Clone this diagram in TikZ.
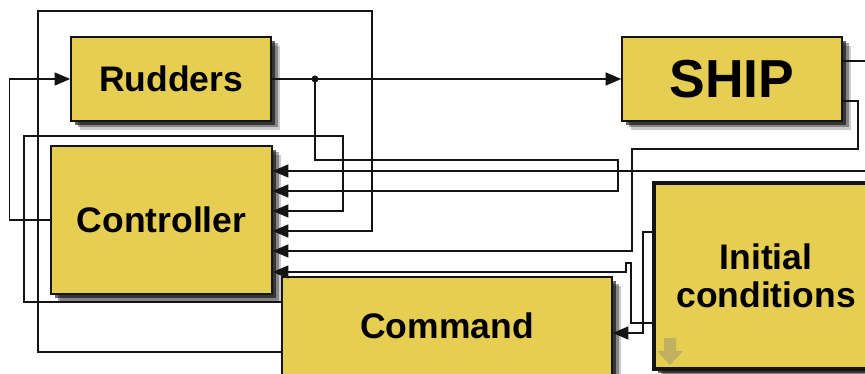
\documentclass[tikz,border=0pt]{standalone}
\usepackage{fontspec}
\setmainfont{Liberation Sans}
\usetikzlibrary{arrows.meta,shadows}
\definecolor{boxfill}{RGB}{230,206,83}
\definecolor{linec}{RGB}{20,20,20}
\definecolor{iconc}{RGB}{186,172,96}
\begin{document}
\begin{tikzpicture}[x=1pt,y=-1pt,
  blk/.style={draw=linec, line width=1.6pt, fill=boxfill, inner sep=0pt,
    font=\bfseries\fontsize{35.5}{38}\selectfont, align=center,
    drop shadow={shadow xshift=9pt,shadow yshift=-9pt,opacity=.2,fill=black},
    drop shadow={shadow xshift=6.5pt,shadow yshift=-6.5pt,opacity=.35,fill=black},
    drop shadow={shadow xshift=4pt,shadow yshift=-4pt,opacity=.6,fill=black}},
  wire/.style={draw=linec, line width=1.3pt},
  arr/.style={wire, -{Triangle[length=15.5pt,width=13pt]}}]
\useasboundingbox (0,0) rectangle (865,374);
\clip (0,0) rectangle (865,374);

\node[blk, minimum width=200pt, minimum height=84pt] (rud) at (171,79) {Rudders};
\node[blk, minimum width=220pt, minimum height=84pt,
      font=\bfseries\fontsize{53.5}{56}\selectfont] (ship) at (732,79) {SHIP};
\node[blk, minimum width=221pt, minimum height=148pt] (ctl) at (161.5,220) {Controller};
\node[blk, minimum width=330pt, minimum height=98pt] (cmd) at (447,326) {Command};
\node[blk, line width=3.5pt, minimum width=224pt, minimum height=185.5pt] (init) at (766,276) {Initial\\conditions};

\fill[iconc, opacity=.85] (664,338) -- (676,338) -- (676,351) -- (683,351) -- (670,365)
  -- (657,351) -- (664,351) -- cycle;

\node[circle, fill=linec, inner sep=0pt, minimum size=7pt] (dot) at (315,79) {};

\draw[arr] (rud.east) -- (ship.west);
\draw[arr] (dot.center) -- (315,160) -- (618,160) -- (618,191) -- (ctl.east |- 0,191);
\draw[arr] (ctl.west) -- ++(-41,0) |- (rud.west);
\draw[arr] (cmd.west |- 0,302) -- (24,302) -- (24,136) -- (343,136) -- (343,211) -- (ctl.east |- 0,211);
\draw[arr] (cmd.west |- 0,352) -- (38,352) -- (38,11) -- (372,11) -- (372,231) -- (ctl.east |- 0,231);
\draw[arr] (ship.east |- 0,61) -- (885,61) -- (885,171) -- (ctl.east |- 0,171);
\draw[arr] (ship.east |- 0,101) -- (858,101) -- (858,149) -- (632,149) -- (632,251) -- (ctl.east |- 0,251);
\draw[arr] (init.west |- 0,323) -- (631,323) -- (631,263) -- (626,263) -- (626,272) -- (ctl.east |- 0,272);
\draw[arr] (init.west |- 0,232) -- (643,232) -- (643,333) -- (cmd.east |- 0,333);
\end{tikzpicture}
\end{document}
